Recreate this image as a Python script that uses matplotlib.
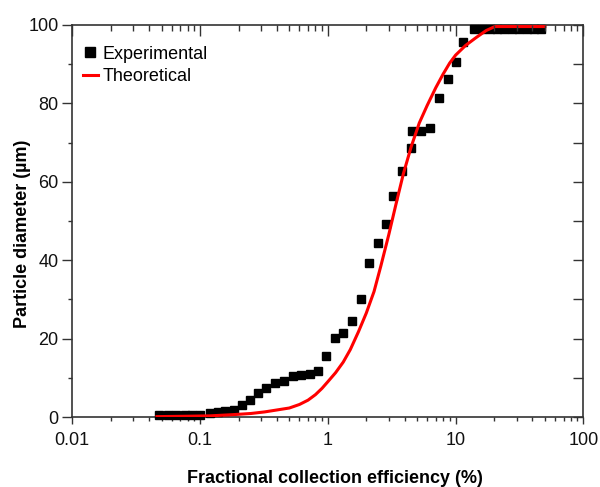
import matplotlib
matplotlib.use("Agg")
from matplotlib import pyplot as plt
from matplotlib.ticker import LogLocator, NullFormatter, MultipleLocator

plt.rcParams['font.family'] = ['Liberation Sans', 'DejaVu Sans']

# experimental points
exp_x = [0.048, 0.056, 0.065, 0.076, 0.086, 0.10, 0.119, 0.137, 0.158, 0.184,
         0.212, 0.248, 0.286, 0.331, 0.387, 0.452, 0.531, 0.617, 0.720, 0.841,
         0.970, 1.133, 1.322, 1.545, 1.803, 2.105, 2.459, 2.837, 3.25, 3.80,
         4.49, 4.57, 5.35, 6.35, 7.4, 8.7, 10.0, 11.4, 14.0, 16.0, 18.5, 21.0,
         24.0, 27.5, 31.5, 36.0, 41.0, 47.0]
exp_y = [0.4, 0.4, 0.4, 0.4, 0.4, 0.5, 1.0, 1.4, 1.5, 1.9,
         3.0, 4.3, 6.0, 7.4, 8.6, 9.1, 10.4, 10.8, 11.1, 11.7,
         15.6, 20.1, 21.4, 24.4, 30.1, 39.3, 44.4, 49.3, 56.4, 62.8,
         68.5, 73.0, 73.0, 73.6, 81.3, 86.3, 90.6, 95.7, 99.0, 99.1, 99.1, 99.1,
         99.1, 99.1, 99.1, 99.1, 99.1, 99.1]

# theoretical curve
th_x = [0.046, 0.08, 0.12, 0.18, 0.25, 0.32, 0.40, 0.50, 0.60, 0.70, 0.80,
        0.90, 1.0, 1.15, 1.32, 1.5, 1.74, 2.0, 2.3, 2.6, 3.0, 3.4, 3.9, 4.5,
        5.2, 6.0, 7.0, 8.0, 9.0, 10.0, 12.0, 14.5, 17.4, 20.3, 50.0]
th_y = [0.1, 0.2, 0.3, 0.6, 0.9, 1.3, 1.8, 2.3, 3.2, 4.3, 5.7,
        7.3, 9.0, 11.3, 14.0, 17.2, 21.8, 26.5, 32.0, 38.5, 46.5, 54.0, 62.0, 69.0,
        75.0, 79.5, 84.0, 87.5, 90.3, 92.3, 94.8, 96.8, 98.6, 99.6, 99.6]

fig = plt.figure(figsize=(6.0, 4.87), dpi=100)
ax = fig.add_axes([0.1205, 0.1437, 0.8517, 0.805])

ax.plot(exp_x, exp_y, 's', color='black', markersize=6.3, label='Experimental',
        clip_on=False, zorder=3)
ax.plot(th_x, th_y, '-', color='#ff0000', lw=2.2, label='Theoretical', zorder=4)

ax.set_xscale('log')
ax.set_xlim(0.01, 100)
ax.set_ylim(0, 100)
ax.xaxis.set_minor_locator(LogLocator(base=10, subs=range(2, 10), numticks=20))
ax.xaxis.set_minor_formatter(NullFormatter())
ax.set_xticks([0.01, 0.1, 1, 10, 100])
ax.set_xticklabels(['0.01', '0.1', '1', '10', '100'])
ax.yaxis.set_major_locator(MultipleLocator(20))
ax.yaxis.set_minor_locator(MultipleLocator(10))

ax.tick_params(which='major', direction='out', length=5, width=1, labelsize=13,
               colors='#333333', labelcolor='#111111')
ax.tick_params(which='minor', direction='out', length=3, width=1, colors='#333333')
ax.tick_params(axis='y', which='major', length=7, pad=3)
ax.tick_params(axis='x', which='major', pad=6)
for s in ax.spines.values():
    s.set_color('#333333')
    s.set_linewidth(1.2)

# top and right ticks point inward
axt = ax.twiny()
axt.set_xscale('log')
axt.set_xlim(ax.get_xlim())
axt.xaxis.set_minor_locator(LogLocator(base=10, subs=range(2, 10), numticks=20))
axt.tick_params(which='major', direction='in', length=8, width=1, labeltop=False,
                colors='#333333')
axt.tick_params(which='minor', direction='in', length=4, width=1, colors='#333333')
axr = ax.twinx()
axr.set_ylim(ax.get_ylim())
axr.yaxis.set_major_locator(MultipleLocator(20))
axr.yaxis.set_minor_locator(MultipleLocator(10))
axr.tick_params(which='both', direction='in', length=7, width=1, labelright=False,
                colors='#333333')
for a in (axt, axr):
    for s in a.spines.values():
        s.set_visible(False)

ax.set_xlabel('Fractional collection efficiency (%)', fontsize=13, fontweight='bold')
ax.set_ylabel('Particle diameter (\u00b5m)', fontsize=13, fontweight='bold')
ax.xaxis.set_label_coords(0.514, -0.136)
ax.yaxis.set_label_coords(-0.081, 0.467)

leg = axr.legend(*ax.get_legend_handles_labels(), loc='upper left', frameon=False,
                 fontsize=13, handlelength=0.8, handletextpad=0.3, labelspacing=0.3,
                 borderaxespad=0.2, bbox_to_anchor=(0.0, 0.975), markerscale=1.15)

fig.savefig('out.png', dpi=100)
